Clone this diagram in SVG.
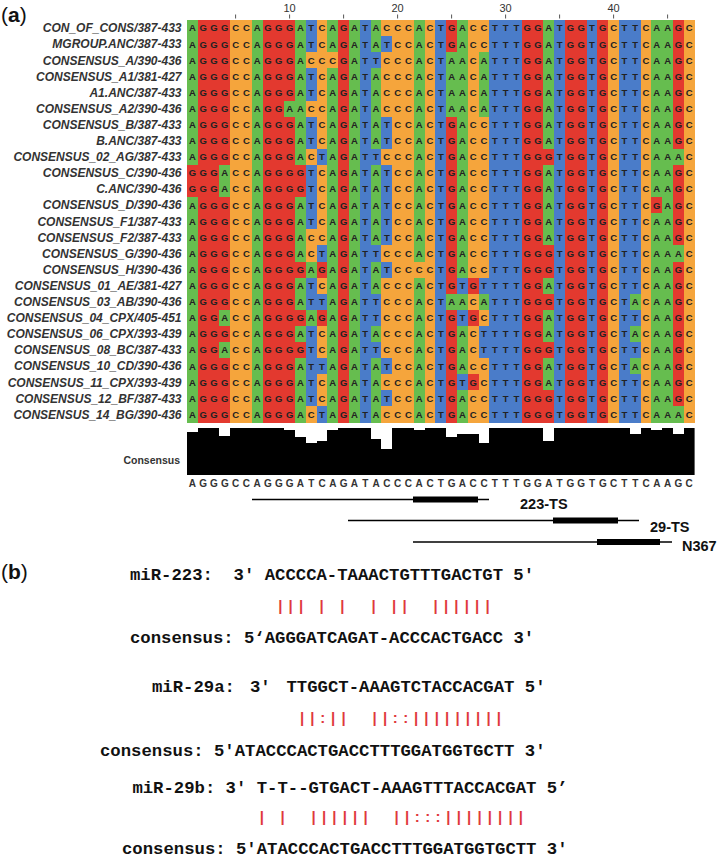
<svg xmlns="http://www.w3.org/2000/svg" width="720" height="863" viewBox="0 0 720 863">
<style>
.a{fill:#66bd4f}.g{fill:#e3392f}.c{fill:#f5a53c}.t{fill:#4a7cc9}
.seq{font-family:"Liberation Sans",Arial,sans-serif;font-weight:bold;font-size:9.5px;fill:#222;text-anchor:middle}
.lbl{font-family:"Liberation Sans",Arial,sans-serif;font-weight:bold;font-style:italic;font-size:12px;fill:#333;text-anchor:end}
.num{font-family:"Liberation Sans",Arial,sans-serif;font-size:11px;fill:#333;text-anchor:middle}
.cons{font-family:"Liberation Sans",Arial,sans-serif;font-weight:bold;font-size:10px;fill:#333;text-anchor:middle}
.panel{font-family:"Liberation Sans",Arial,sans-serif;font-size:21px;fill:#111}
.mono{font-family:"Liberation Mono","Courier New",monospace;font-weight:bold;font-size:17.27px;fill:#111}
.red{font-family:"Liberation Sans",Arial,sans-serif;font-weight:bold;font-size:15px;fill:#e0383c;text-anchor:middle}
.ts{font-family:"Liberation Sans",Arial,sans-serif;font-weight:bold;font-size:14.5px;fill:#111}
.tick{stroke:#555;stroke-width:1}
.ln{stroke:#000;stroke-width:1.6}
</style>
<rect width="720" height="863" fill="#fff"/>

<g id="panel-a-label"><text class="panel" x="1" y="22">(<tspan font-weight="bold">a</tspan>)</text></g>

<g id="ruler">
<text class="num" x="289.6" y="12">10</text>
<text class="num" x="397.6" y="12">20</text>
<text class="num" x="505.6" y="12">30</text>
<text class="num" x="613.6" y="12">40</text>
<line class="tick" x1="235.6" y1="14.5" x2="235.6" y2="18.5"/>
<line class="tick" x1="289.6" y1="14.5" x2="289.6" y2="18.5"/>
<line class="tick" x1="343.6" y1="14.5" x2="343.6" y2="18.5"/>
<line class="tick" x1="397.6" y1="14.5" x2="397.6" y2="18.5"/>
<line class="tick" x1="451.6" y1="14.5" x2="451.6" y2="18.5"/>
<line class="tick" x1="505.6" y1="14.5" x2="505.6" y2="18.5"/>
<line class="tick" x1="559.6" y1="14.5" x2="559.6" y2="18.5"/>
<line class="tick" x1="613.6" y1="14.5" x2="613.6" y2="18.5"/>
<line class="tick" x1="667.6" y1="14.5" x2="667.6" y2="18.5"/>
</g>

<g id="alignment-cells" transform="translate(187 20) scale(10.8 16.1)" shape-rendering="crispEdges">
<rect class="a" x="0" width="1" height="25"/>
<rect class="g" x="1" width="3" height="25"/>
<rect class="c" x="4" width="2" height="25"/>
<rect class="a" x="6" width="1" height="25"/>
<rect class="g" x="7" width="3" height="25"/>
<rect class="a" x="10" width="1" height="25"/>
<rect class="t" x="11" width="1" height="25"/>
<rect class="c" x="12" width="1" height="25"/>
<rect class="a" x="13" width="1" height="25"/>
<rect class="g" x="14" width="1" height="25"/>
<rect class="a" x="15" width="1" height="25"/>
<rect class="t" x="16" width="1" height="25"/>
<rect class="a" x="17" width="1" height="25"/>
<rect class="c" x="18" width="3" height="25"/>
<rect class="a" x="21" width="1" height="25"/>
<rect class="c" x="22" width="1" height="25"/>
<rect class="t" x="23" width="1" height="25"/>
<rect class="g" x="24" width="1" height="25"/>
<rect class="a" x="25" width="1" height="25"/>
<rect class="c" x="26" width="2" height="25"/>
<rect class="t" x="28" width="3" height="25"/>
<rect class="g" x="31" width="2" height="25"/>
<rect class="a" x="33" width="1" height="25"/>
<rect class="t" x="34" width="1" height="25"/>
<rect class="g" x="35" width="2" height="25"/>
<rect class="t" x="37" width="1" height="25"/>
<rect class="g" x="38" width="1" height="25"/>
<rect class="c" x="39" width="1" height="25"/>
<rect class="t" x="40" width="2" height="25"/>
<rect class="c" x="42" width="1" height="25"/>
<rect class="a" x="43" width="2" height="25"/>
<rect class="g" x="45" width="1" height="25"/>
<rect class="c" x="46" width="1" height="25"/>
<rect class="g" x="0" y="9" width="1" height="2"/>
<rect class="a" x="3" y="9" width="1" height="2"/>
<rect class="a" x="3" y="18" width="1" height="1"/>
<rect class="a" x="3" y="20" width="1" height="1"/>
<rect class="a" x="9" y="5" width="1" height="1"/>
<rect class="g" x="10" y="9" width="1" height="2"/>
<rect class="g" x="10" y="15" width="1" height="1"/>
<rect class="g" x="10" y="18" width="1" height="1"/>
<rect class="g" x="10" y="20" width="1" height="1"/>
<rect class="c" x="11" y="2" width="1" height="1"/>
<rect class="c" x="11" y="5" width="1" height="1"/>
<rect class="c" x="11" y="8" width="1" height="1"/>
<rect class="c" x="11" y="13" width="1" height="2"/>
<rect class="c" x="11" y="24" width="1" height="1"/>
<rect class="a" x="11" y="15" width="1" height="1"/>
<rect class="a" x="11" y="18" width="1" height="1"/>
<rect class="t" x="12" y="8" width="1" height="1"/>
<rect class="t" x="12" y="14" width="1" height="1"/>
<rect class="t" x="12" y="17" width="1" height="1"/>
<rect class="t" x="12" y="21" width="1" height="1"/>
<rect class="t" x="12" y="24" width="1" height="1"/>
<rect class="g" x="12" y="15" width="1" height="1"/>
<rect class="g" x="12" y="18" width="1" height="1"/>
<rect class="c" x="13" y="2" width="1" height="1"/>
<rect class="t" x="17" y="2" width="1" height="1"/>
<rect class="t" x="17" y="8" width="1" height="1"/>
<rect class="t" x="17" y="14" width="1" height="1"/>
<rect class="t" x="17" y="17" width="1" height="2"/>
<rect class="t" x="17" y="20" width="1" height="1"/>
<rect class="t" x="18" y="1" width="1" height="1"/>
<rect class="t" x="18" y="6" width="1" height="2"/>
<rect class="t" x="18" y="9" width="1" height="5"/>
<rect class="t" x="18" y="15" width="1" height="1"/>
<rect class="t" x="18" y="21" width="1" height="1"/>
<rect class="t" x="18" y="23" width="1" height="1"/>
<rect class="c" x="21" y="15" width="1" height="1"/>
<rect class="a" x="24" y="2" width="1" height="4"/>
<rect class="a" x="24" y="17" width="1" height="1"/>
<rect class="t" x="25" y="16" width="1" height="1"/>
<rect class="t" x="25" y="18" width="1" height="1"/>
<rect class="t" x="25" y="22" width="1" height="1"/>
<rect class="g" x="26" y="16" width="1" height="1"/>
<rect class="g" x="26" y="18" width="1" height="1"/>
<rect class="g" x="26" y="22" width="1" height="1"/>
<rect class="a" x="27" y="2" width="1" height="4"/>
<rect class="a" x="27" y="17" width="1" height="1"/>
<rect class="t" x="27" y="16" width="1" height="1"/>
<rect class="t" x="27" y="19" width="1" height="2"/>
<rect class="g" x="33" y="8" width="1" height="1"/>
<rect class="g" x="33" y="14" width="1" height="2"/>
<rect class="g" x="33" y="17" width="1" height="1"/>
<rect class="g" x="33" y="20" width="1" height="1"/>
<rect class="g" x="33" y="23" width="1" height="2"/>
<rect class="a" x="41" y="17" width="1" height="1"/>
<rect class="a" x="41" y="19" width="1" height="1"/>
<rect class="a" x="41" y="21" width="1" height="1"/>
<rect class="g" x="43" y="11" width="1" height="1"/>
<rect class="a" x="45" y="8" width="1" height="1"/>
<rect class="a" x="45" y="14" width="1" height="1"/>
<rect class="a" x="45" y="24" width="1" height="1"/>
</g>

<g id="row-labels">
<text class="lbl" x="181.5" y="32.35">CON_OF_CONS/387-433</text>
<text class="lbl" x="181.5" y="48.45">MGROUP.ANC/387-433</text>
<text class="lbl" x="181.5" y="64.55">CONSENSUS_A/390-436</text>
<text class="lbl" x="181.5" y="80.65">CONSENSUS_A1/381-427</text>
<text class="lbl" x="181.5" y="96.75">A1.ANC/387-433</text>
<text class="lbl" x="181.5" y="112.85">CONSENSUS_A2/390-436</text>
<text class="lbl" x="181.5" y="128.95">CONSENSUS_B/387-433</text>
<text class="lbl" x="181.5" y="145.05">B.ANC/387-433</text>
<text class="lbl" x="181.5" y="161.15">CONSENSUS_02_AG/387-433</text>
<text class="lbl" x="181.5" y="177.25">CONSENSUS_C/390-436</text>
<text class="lbl" x="181.5" y="193.35">C.ANC/390-436</text>
<text class="lbl" x="181.5" y="209.45">CONSENSUS_D/390-436</text>
<text class="lbl" x="181.5" y="225.55">CONSENSUS_F1/387-433</text>
<text class="lbl" x="181.5" y="241.65">CONSENSUS_F2/387-433</text>
<text class="lbl" x="181.5" y="257.75">CONSENSUS_G/390-436</text>
<text class="lbl" x="181.5" y="273.85">CONSENSUS_H/390-436</text>
<text class="lbl" x="181.5" y="289.95">CONSENSUS_01_AE/381-427</text>
<text class="lbl" x="181.5" y="306.05">CONSENSUS_03_AB/390-436</text>
<text class="lbl" x="181.5" y="322.15">CONSENSUS_04_CPX/405-451</text>
<text class="lbl" x="181.5" y="338.25">CONSENSUS_06_CPX/393-439</text>
<text class="lbl" x="181.5" y="354.35">CONSENSUS_08_BC/387-433</text>
<text class="lbl" x="181.5" y="370.45">CONSENSUS_10_CD/390-436</text>
<text class="lbl" x="181.5" y="386.55">CONSENSUS_11_CPX/393-439</text>
<text class="lbl" x="181.5" y="402.65">CONSENSUS_12_BF/387-433</text>
<text class="lbl" x="181.5" y="418.75">CONSENSUS_14_BG/390-436</text>
</g>

<g id="alignment-letters">
<text class="seq" y="31.45" x="192.4 203.2 214 224.8 235.6 246.4 257.2 268 278.8 289.6 300.4 311.2 322 332.8 343.6 354.4 365.2 376 386.8 397.6 408.4 419.2 430 440.8 451.6 462.4 473.2 484 494.8 505.6 516.4 527.2 538 548.8 559.6 570.4 581.2 592 602.8 613.6 624.4 635.2 646 656.8 667.6 678.4 689.2">AGGGCCAGGGATCAGATACCCACTGACCTTTGGATGGTGCTTCAAGC</text>
<text class="seq" y="47.55" x="192.4 203.2 214 224.8 235.6 246.4 257.2 268 278.8 289.6 300.4 311.2 322 332.8 343.6 354.4 365.2 376 386.8 397.6 408.4 419.2 430 440.8 451.6 462.4 473.2 484 494.8 505.6 516.4 527.2 538 548.8 559.6 570.4 581.2 592 602.8 613.6 624.4 635.2 646 656.8 667.6 678.4 689.2">AGGGCCAGGGATCAGATATCCACTGACCTTTGGATGGTGCTTCAAGC</text>
<text class="seq" y="63.65" x="192.4 203.2 214 224.8 235.6 246.4 257.2 268 278.8 289.6 300.4 311.2 322 332.8 343.6 354.4 365.2 376 386.8 397.6 408.4 419.2 430 440.8 451.6 462.4 473.2 484 494.8 505.6 516.4 527.2 538 548.8 559.6 570.4 581.2 592 602.8 613.6 624.4 635.2 646 656.8 667.6 678.4 689.2">AGGGCCAGGGACCCGATTCCCACTAACATTTGGATGGTGCTTCAAGC</text>
<text class="seq" y="79.75" x="192.4 203.2 214 224.8 235.6 246.4 257.2 268 278.8 289.6 300.4 311.2 322 332.8 343.6 354.4 365.2 376 386.8 397.6 408.4 419.2 430 440.8 451.6 462.4 473.2 484 494.8 505.6 516.4 527.2 538 548.8 559.6 570.4 581.2 592 602.8 613.6 624.4 635.2 646 656.8 667.6 678.4 689.2">AGGGCCAGGGATCAGATACCCACTAACATTTGGATGGTGCTTCAAGC</text>
<text class="seq" y="95.85" x="192.4 203.2 214 224.8 235.6 246.4 257.2 268 278.8 289.6 300.4 311.2 322 332.8 343.6 354.4 365.2 376 386.8 397.6 408.4 419.2 430 440.8 451.6 462.4 473.2 484 494.8 505.6 516.4 527.2 538 548.8 559.6 570.4 581.2 592 602.8 613.6 624.4 635.2 646 656.8 667.6 678.4 689.2">AGGGCCAGGGATCAGATACCCACTAACATTTGGATGGTGCTTCAAGC</text>
<text class="seq" y="111.95" x="192.4 203.2 214 224.8 235.6 246.4 257.2 268 278.8 289.6 300.4 311.2 322 332.8 343.6 354.4 365.2 376 386.8 397.6 408.4 419.2 430 440.8 451.6 462.4 473.2 484 494.8 505.6 516.4 527.2 538 548.8 559.6 570.4 581.2 592 602.8 613.6 624.4 635.2 646 656.8 667.6 678.4 689.2">AGGGCCAGGAACCAGATACCCACTAACATTTGGATGGTGCTTCAAGC</text>
<text class="seq" y="128.05" x="192.4 203.2 214 224.8 235.6 246.4 257.2 268 278.8 289.6 300.4 311.2 322 332.8 343.6 354.4 365.2 376 386.8 397.6 408.4 419.2 430 440.8 451.6 462.4 473.2 484 494.8 505.6 516.4 527.2 538 548.8 559.6 570.4 581.2 592 602.8 613.6 624.4 635.2 646 656.8 667.6 678.4 689.2">AGGGCCAGGGATCAGATATCCACTGACCTTTGGATGGTGCTTCAAGC</text>
<text class="seq" y="144.15" x="192.4 203.2 214 224.8 235.6 246.4 257.2 268 278.8 289.6 300.4 311.2 322 332.8 343.6 354.4 365.2 376 386.8 397.6 408.4 419.2 430 440.8 451.6 462.4 473.2 484 494.8 505.6 516.4 527.2 538 548.8 559.6 570.4 581.2 592 602.8 613.6 624.4 635.2 646 656.8 667.6 678.4 689.2">AGGGCCAGGGATCAGATATCCACTGACCTTTGGATGGTGCTTCAAGC</text>
<text class="seq" y="160.25" x="192.4 203.2 214 224.8 235.6 246.4 257.2 268 278.8 289.6 300.4 311.2 322 332.8 343.6 354.4 365.2 376 386.8 397.6 408.4 419.2 430 440.8 451.6 462.4 473.2 484 494.8 505.6 516.4 527.2 538 548.8 559.6 570.4 581.2 592 602.8 613.6 624.4 635.2 646 656.8 667.6 678.4 689.2">AGGGCCAGGGACTAGATTCCCACTGACCTTTGGGTGGTGCTTCAAAC</text>
<text class="seq" y="176.35" x="192.4 203.2 214 224.8 235.6 246.4 257.2 268 278.8 289.6 300.4 311.2 322 332.8 343.6 354.4 365.2 376 386.8 397.6 408.4 419.2 430 440.8 451.6 462.4 473.2 484 494.8 505.6 516.4 527.2 538 548.8 559.6 570.4 581.2 592 602.8 613.6 624.4 635.2 646 656.8 667.6 678.4 689.2">GGGACCAGGGGTCAGATATCCACTGACCTTTGGATGGTGCTTCAAGC</text>
<text class="seq" y="192.45" x="192.4 203.2 214 224.8 235.6 246.4 257.2 268 278.8 289.6 300.4 311.2 322 332.8 343.6 354.4 365.2 376 386.8 397.6 408.4 419.2 430 440.8 451.6 462.4 473.2 484 494.8 505.6 516.4 527.2 538 548.8 559.6 570.4 581.2 592 602.8 613.6 624.4 635.2 646 656.8 667.6 678.4 689.2">GGGACCAGGGGTCAGATATCCACTGACCTTTGGATGGTGCTTCAAGC</text>
<text class="seq" y="208.55" x="192.4 203.2 214 224.8 235.6 246.4 257.2 268 278.8 289.6 300.4 311.2 322 332.8 343.6 354.4 365.2 376 386.8 397.6 408.4 419.2 430 440.8 451.6 462.4 473.2 484 494.8 505.6 516.4 527.2 538 548.8 559.6 570.4 581.2 592 602.8 613.6 624.4 635.2 646 656.8 667.6 678.4 689.2">AGGGCCAGGGATCAGATATCCACTGACCTTTGGATGGTGCTTCGAGC</text>
<text class="seq" y="224.65" x="192.4 203.2 214 224.8 235.6 246.4 257.2 268 278.8 289.6 300.4 311.2 322 332.8 343.6 354.4 365.2 376 386.8 397.6 408.4 419.2 430 440.8 451.6 462.4 473.2 484 494.8 505.6 516.4 527.2 538 548.8 559.6 570.4 581.2 592 602.8 613.6 624.4 635.2 646 656.8 667.6 678.4 689.2">AGGGCCAGGGATCAGATATCCACTGACCTTTGGATGGTGCTTCAAGC</text>
<text class="seq" y="240.75" x="192.4 203.2 214 224.8 235.6 246.4 257.2 268 278.8 289.6 300.4 311.2 322 332.8 343.6 354.4 365.2 376 386.8 397.6 408.4 419.2 430 440.8 451.6 462.4 473.2 484 494.8 505.6 516.4 527.2 538 548.8 559.6 570.4 581.2 592 602.8 613.6 624.4 635.2 646 656.8 667.6 678.4 689.2">AGGGCCAGGGACCAGATATCCACTGACCTTTGGATGGTGCTTCAAGC</text>
<text class="seq" y="256.85" x="192.4 203.2 214 224.8 235.6 246.4 257.2 268 278.8 289.6 300.4 311.2 322 332.8 343.6 354.4 365.2 376 386.8 397.6 408.4 419.2 430 440.8 451.6 462.4 473.2 484 494.8 505.6 516.4 527.2 538 548.8 559.6 570.4 581.2 592 602.8 613.6 624.4 635.2 646 656.8 667.6 678.4 689.2">AGGGCCAGGGACTAGATTCCCACTGACCTTTGGGTGGTGCTTCAAAC</text>
<text class="seq" y="272.95" x="192.4 203.2 214 224.8 235.6 246.4 257.2 268 278.8 289.6 300.4 311.2 322 332.8 343.6 354.4 365.2 376 386.8 397.6 408.4 419.2 430 440.8 451.6 462.4 473.2 484 494.8 505.6 516.4 527.2 538 548.8 559.6 570.4 581.2 592 602.8 613.6 624.4 635.2 646 656.8 667.6 678.4 689.2">AGGGCCAGGGGAGAGATATCCCCTGACCTTTGGGTGGTGCTTCAAGC</text>
<text class="seq" y="289.05" x="192.4 203.2 214 224.8 235.6 246.4 257.2 268 278.8 289.6 300.4 311.2 322 332.8 343.6 354.4 365.2 376 386.8 397.6 408.4 419.2 430 440.8 451.6 462.4 473.2 484 494.8 505.6 516.4 527.2 538 548.8 559.6 570.4 581.2 592 602.8 613.6 624.4 635.2 646 656.8 667.6 678.4 689.2">AGGGCCAGGGATCAGATACCCACTGTGTTTTGGATGGTGCTTCAAGC</text>
<text class="seq" y="305.15" x="192.4 203.2 214 224.8 235.6 246.4 257.2 268 278.8 289.6 300.4 311.2 322 332.8 343.6 354.4 365.2 376 386.8 397.6 408.4 419.2 430 440.8 451.6 462.4 473.2 484 494.8 505.6 516.4 527.2 538 548.8 559.6 570.4 581.2 592 602.8 613.6 624.4 635.2 646 656.8 667.6 678.4 689.2">AGGGCCAGGGATTAGATTCCCACTAACATTTGGGTGGTGCTACAAGC</text>
<text class="seq" y="321.25" x="192.4 203.2 214 224.8 235.6 246.4 257.2 268 278.8 289.6 300.4 311.2 322 332.8 343.6 354.4 365.2 376 386.8 397.6 408.4 419.2 430 440.8 451.6 462.4 473.2 484 494.8 505.6 516.4 527.2 538 548.8 559.6 570.4 581.2 592 602.8 613.6 624.4 635.2 646 656.8 667.6 678.4 689.2">AGGACCAGGGGAGAGATTCCCACTGTGCTTTGGATGGTGCTTCAAGC</text>
<text class="seq" y="337.35" x="192.4 203.2 214 224.8 235.6 246.4 257.2 268 278.8 289.6 300.4 311.2 322 332.8 343.6 354.4 365.2 376 386.8 397.6 408.4 419.2 430 440.8 451.6 462.4 473.2 484 494.8 505.6 516.4 527.2 538 548.8 559.6 570.4 581.2 592 602.8 613.6 624.4 635.2 646 656.8 667.6 678.4 689.2">AGGGCCAGGGATCAGATACCCACTGACTTTTGGATGGTGCTACAAGC</text>
<text class="seq" y="353.45" x="192.4 203.2 214 224.8 235.6 246.4 257.2 268 278.8 289.6 300.4 311.2 322 332.8 343.6 354.4 365.2 376 386.8 397.6 408.4 419.2 430 440.8 451.6 462.4 473.2 484 494.8 505.6 516.4 527.2 538 548.8 559.6 570.4 581.2 592 602.8 613.6 624.4 635.2 646 656.8 667.6 678.4 689.2">AGGACCAGGGGTCAGATTCCCACTGACTTTTGGGTGGTGCTTCAAGC</text>
<text class="seq" y="369.55" x="192.4 203.2 214 224.8 235.6 246.4 257.2 268 278.8 289.6 300.4 311.2 322 332.8 343.6 354.4 365.2 376 386.8 397.6 408.4 419.2 430 440.8 451.6 462.4 473.2 484 494.8 505.6 516.4 527.2 538 548.8 559.6 570.4 581.2 592 602.8 613.6 624.4 635.2 646 656.8 667.6 678.4 689.2">AGGGCCAGGGATTAGATATCCACTGACCTTTGGATGGTGCTACAAGC</text>
<text class="seq" y="385.65" x="192.4 203.2 214 224.8 235.6 246.4 257.2 268 278.8 289.6 300.4 311.2 322 332.8 343.6 354.4 365.2 376 386.8 397.6 408.4 419.2 430 440.8 451.6 462.4 473.2 484 494.8 505.6 516.4 527.2 538 548.8 559.6 570.4 581.2 592 602.8 613.6 624.4 635.2 646 656.8 667.6 678.4 689.2">AGGGCCAGGGATCAGATACCCACTGTGCTTTGGATGGTGCTTCAAGC</text>
<text class="seq" y="401.75" x="192.4 203.2 214 224.8 235.6 246.4 257.2 268 278.8 289.6 300.4 311.2 322 332.8 343.6 354.4 365.2 376 386.8 397.6 408.4 419.2 430 440.8 451.6 462.4 473.2 484 494.8 505.6 516.4 527.2 538 548.8 559.6 570.4 581.2 592 602.8 613.6 624.4 635.2 646 656.8 667.6 678.4 689.2">AGGGCCAGGGATCAGATATCCACTGACCTTTGGGTGGTGCTTCAAGC</text>
<text class="seq" y="417.85" x="192.4 203.2 214 224.8 235.6 246.4 257.2 268 278.8 289.6 300.4 311.2 322 332.8 343.6 354.4 365.2 376 386.8 397.6 408.4 419.2 430 440.8 451.6 462.4 473.2 484 494.8 505.6 516.4 527.2 538 548.8 559.6 570.4 581.2 592 602.8 613.6 624.4 635.2 646 656.8 667.6 678.4 689.2">AGGGCCAGGGACTAGATACCCACTGACCTTTGGGTGGTGCTTCAAAC</text>
</g>

<g id="consensus-histogram">
<text x="180" y="464" font-family="Liberation Sans, Arial, sans-serif" font-weight="bold" font-size="10.5" fill="#333" text-anchor="end">Consensus</text>
<rect x="187" y="428" width="507.6" height="47" fill="#000"/>
<g transform="translate(187 428) scale(10.8 1)" fill="#fff" shape-rendering="crispEdges">
<rect x="0" width="1" height="3.76"/>
<rect x="3" width="1" height="7.52"/>
<rect x="9" width="1" height="1.88"/>
<rect x="10" width="1" height="9.4"/>
<rect x="11" width="1" height="15.04"/>
<rect x="12" width="1" height="13.16"/>
<rect x="13" width="1" height="1.88"/>
<rect x="17" width="1" height="11.28"/>
<rect x="18" width="1" height="20.68"/>
<rect x="21" width="1" height="1.88"/>
<rect x="24" width="1" height="9.4"/>
<rect x="25" width="2" height="5.64"/>
<rect x="27" width="1" height="15.04"/>
<rect x="33" width="1" height="13.16"/>
<rect x="41" width="1" height="5.64"/>
<rect x="43" width="1" height="1.88"/>
<rect x="45" width="1" height="5.64"/>
</g>
<text class="cons" y="487" x="192.4 203.2 214 224.8 235.6 246.4 257.2 268 278.8 289.6 300.4 311.2 322 332.8 343.6 354.4 365.2 376 386.8 397.6 408.4 419.2 430 440.8 451.6 462.4 473.2 484 494.8 505.6 516.4 527.2 538 548.8 559.6 570.4 581.2 592 602.8 613.6 624.4 635.2 646 656.8 667.6 678.4 689.2">AGGGCCAGGGATCAGATACCCACTGACCTTTGGATGGTGCTTCAAGC</text>
</g>

<g id="target-sites">
<g id="ts-223">
<line class="ln" x1="252" y1="499.5" x2="489" y2="499.5"/>
<rect x="413" y="496.5" width="65" height="6" fill="#000"/>
<text class="ts" x="520" y="508.5">223-TS</text>
</g>
<g id="ts-29">
<line class="ln" x1="348" y1="520.5" x2="639" y2="520.5"/>
<rect x="553" y="517.5" width="65" height="6" fill="#000"/>
<text class="ts" x="650" y="532">29-TS</text>
</g>
<g id="ts-n367">
<line class="ln" x1="413" y1="542" x2="672" y2="542"/>
<rect x="597" y="539" width="63" height="6" fill="#000"/>
<text class="ts" x="682" y="551">N367</text>
</g>
</g>

<g id="panel-b-label"><text class="panel" x="1" y="579">(<tspan font-weight="bold">b</tspan>)</text></g>

<g id="mir-223">
<text class="mono" y="580"><tspan x="130">miR-223:</tspan><tspan x="233.6">3'</tspan><tspan x="264.7">ACCCCA-TAAACTGTTTGACTGT</tspan><tspan x="513.3">5'</tspan></text>
<text class="red" y="611" x="280.3 290.6 301 321.7 342.4 373.5 394.2 404.6 435.7 446 456.4 466.8 477.1 487.5">||||||||||||||</text>
<text class="mono" y="643"><tspan x="130">consensus:</tspan><tspan x="244">5‘AGGGATCAGAT-ACCCACTGACC</tspan><tspan x="513.4">3'</tspan></text>
</g>

<g id="mir-29a">
<text class="mono" y="692"><tspan x="152">miR-29a:</tspan><tspan x="250">3'</tspan><tspan x="286.5">TTGGCT-AAAGTCTACCACGAT</tspan><tspan x="524.8">5'</tspan></text>
<text class="red" y="723" x="302.1 312.4 322.8 333.2 343.5 374.6 385 395.3 405.7 416 426.4 436.8 447.1 457.5 467.8 478.2 488.6 498.9">||:||||::|||||||||</text>
<text class="mono" y="756"><tspan x="100">consensus:</tspan><tspan x="214">5'ATACCCACTGACCTTTGGATGGTGCTT</tspan><tspan x="524.8">3'</tspan></text>
</g>

<g id="mir-29b">
<text class="mono" y="793"><tspan x="132.4">miR-29b:</tspan><tspan x="225.6">3'</tspan><tspan x="256.7">T-T--GTGACT-AAAGTTTACCACGAT</tspan><tspan x="546.8">5’</tspan></text>
<text class="red" y="822" x="261.9 282.6 313.7 324.1 334.4 344.8 355.2 365.5 396.6 407 417.3 427.7 438 448.4 458.8 469.1 479.5 489.8 500.2 510.6 520.9">||||||||||:::||||||||</text>
<text class="mono" y="854"><tspan x="122">consensus:</tspan><tspan x="236">5'ATACCCACTGACCTTTGGATGGTGCTT</tspan><tspan x="546.8">3'</tspan></text>
</g>
</svg>
